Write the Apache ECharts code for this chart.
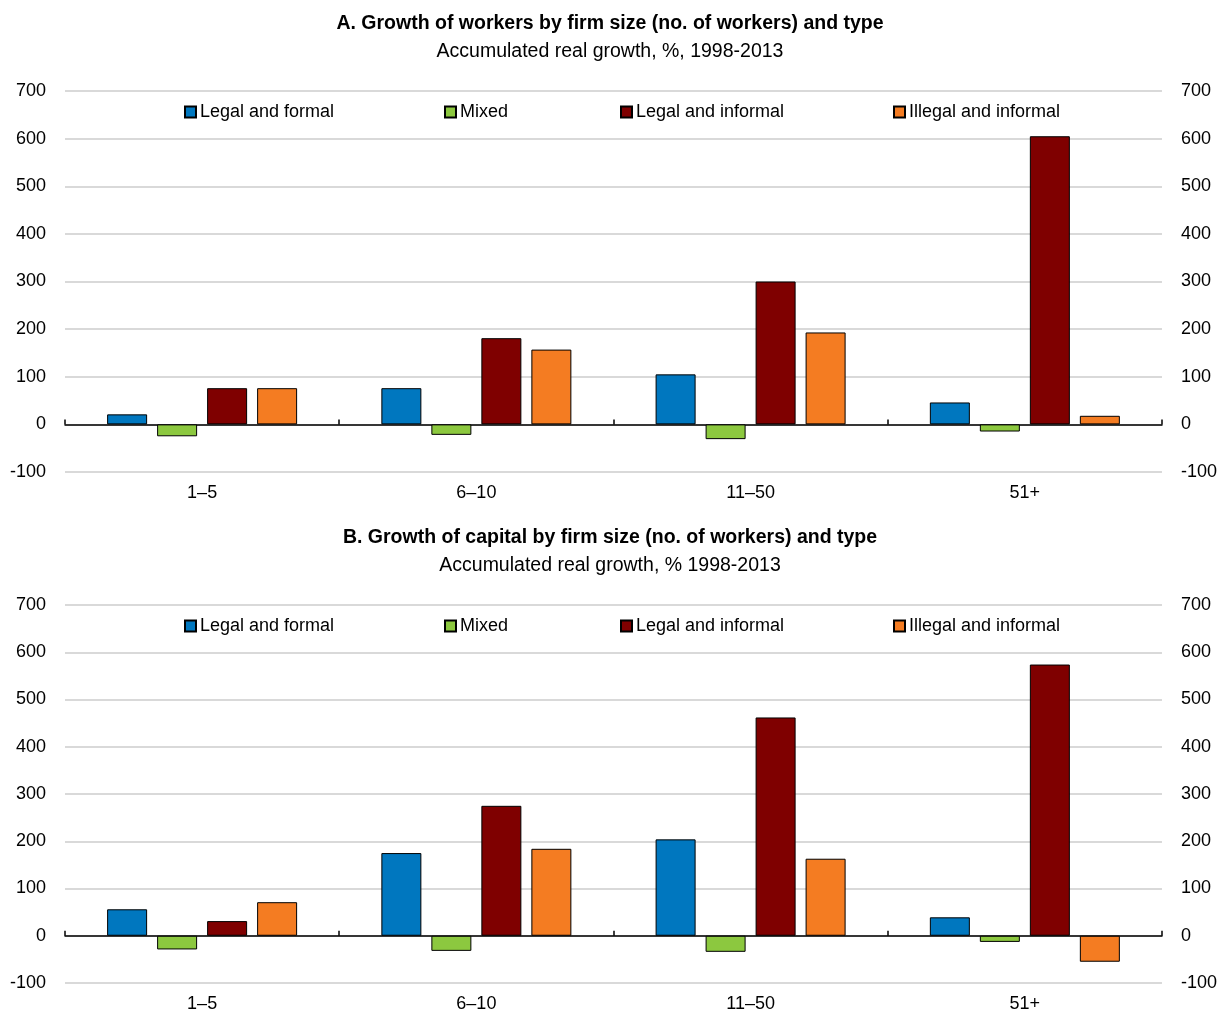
<!DOCTYPE html>
<html>
<head>
<meta charset="utf-8">
<script src="https://cdn.jsdelivr.net/npm/echarts@6/dist/echarts.min.js"></script>
<style>
html,body{margin:0;padding:0;background:#fff;}
#chart{width:1220px;height:1013px;}
</style>
</head>
<body>
<div id="chart"></div>
<script>
const categories = ['1–5', '6–10', '11–50', '51+'];
const seriesNames = ['Legal and formal', 'Mixed', 'Legal and informal', 'Illegal and informal'];
const seriesColors = ['#0077bf', '#8cc83f', '#7f0000', '#f47c22'];

// Panel A: growth of workers
const workersLegalFormal = [21, 76, 105, 46];
const workersMixed = [-25, -22, -31, -15];
const workersLegalInformal = [76, 181, 300, 605];
const workersIllegalInformal = [76, 157, 193, 18];

// Panel B: growth of capital
const capitalLegalFormal = [56, 175, 204, 39];
const capitalMixed = [-29, -32, -34, -13];
const capitalLegalInformal = [31, 275, 462, 574];
const capitalIllegalInformal = [71, 184, 163, -55];

const yMin = -100, yMax = 700, yStep = 100;

const titleA = 'A. Growth of workers by firm size (no. of workers) and type';
const subA = 'Accumulated real growth, %, 1998-2013';
const titleB = 'B. Growth of capital by firm size (no. of workers) and type';
const subB = 'Accumulated real growth, % 1998-2013';

const FONT = '"Liberation Sans Narrow", "Arial Narrow", "Liberation Sans", Arial, sans-serif';

const grids = [
  {left: 65, width: 1098, top: 91, height: 381},
  {left: 65, width: 1098, top: 605, height: 381}
];

const xAxes = [], yAxes = [];
grids.forEach((g, i) => {
  xAxes.push({
    type: 'category', gridIndex: i, data: categories,
    axisLine: {onZero: true, onZeroAxisIndex: i * 2, lineStyle: {color: '#000', width: 1.5}},
    axisTick: {show: true, inside: true, length: 5, lineStyle: {color: '#000', width: 1.5}},
    axisLabel: {show: false}, splitLine: {show: false}
  });
  xAxes.push({
    type: 'category', gridIndex: i, data: categories, position: 'bottom',
    axisLine: {show: false, onZero: false}, axisTick: {show: false},
    axisLabel: {show: true, margin: 12, fontSize: 18, color: '#000', fontFamily: FONT},
    splitLine: {show: false}
  });
  const yBase = {
    type: 'value', gridIndex: i, min: yMin, max: yMax, interval: yStep,
    axisLine: {show: false}, axisTick: {show: false},
    axisLabel: {fontSize: 18, color: '#000', fontFamily: FONT, margin: 19}
  };
  yAxes.push(Object.assign({}, yBase, {position: 'left', splitLine: {show: true, lineStyle: {color: '#d9d9d9', width: 2}}}));
  yAxes.push(Object.assign({}, yBase, {position: 'right', splitLine: {show: false}}));
});

const panelData = [
  [workersLegalFormal, workersMixed, workersLegalInformal, workersIllegalInformal],
  [capitalLegalFormal, capitalMixed, capitalLegalInformal, capitalIllegalInformal]
];

const series = [];
panelData.forEach((arrs, p) => {
  arrs.forEach((d, k) => {
    series.push({
      type: 'bar', name: seriesNames[k], data: d,
      xAxisIndex: p * 2, yAxisIndex: p * 2,
      barWidth: 40, barGap: '25%',
      itemStyle: {color: seriesColors[k], borderColor: '#000', borderWidth: 1},
      emphasis: {disabled: true}
    });
  });
});

const legendLefts = [184, 444, 620, 893];
const legendTops = [103, 617];
const legends = [];
legendTops.forEach(t => {
  seriesNames.forEach((n, k) => {
    legends.push({
      data: [n], left: legendLefts[k], top: t, icon: 'rect',
      itemWidth: 11, itemHeight: 11, itemGap: 0, padding: 0,
      selectedMode: false,
      textStyle: {fontSize: 18, color: '#000', fontFamily: FONT, padding: [0, 0, 0, -1]}
    });
  });
});

const titles = [
  {text: titleA, left: 'center', top: 9, textStyle: {fontSize: 19.5, fontWeight: 'bold', color: '#000', fontFamily: FONT}},
  {text: subA, left: 'center', top: 37, textStyle: {fontSize: 19.5, fontWeight: 'normal', color: '#000', fontFamily: FONT}},
  {text: titleB, left: 'center', top: 523, textStyle: {fontSize: 19.5, fontWeight: 'bold', color: '#000', fontFamily: FONT}},
  {text: subB, left: 'center', top: 551, textStyle: {fontSize: 19.5, fontWeight: 'normal', color: '#000', fontFamily: FONT}}
];

const chart = echarts.init(document.getElementById('chart'), null, {renderer: 'canvas'});
chart.setOption({
  animation: false,
  backgroundColor: '#fff',
  textStyle: {fontFamily: FONT},
  title: titles,
  legend: legends,
  grid: grids,
  xAxis: xAxes,
  yAxis: yAxes,
  series: series
});
</script>
</body>
</html>
